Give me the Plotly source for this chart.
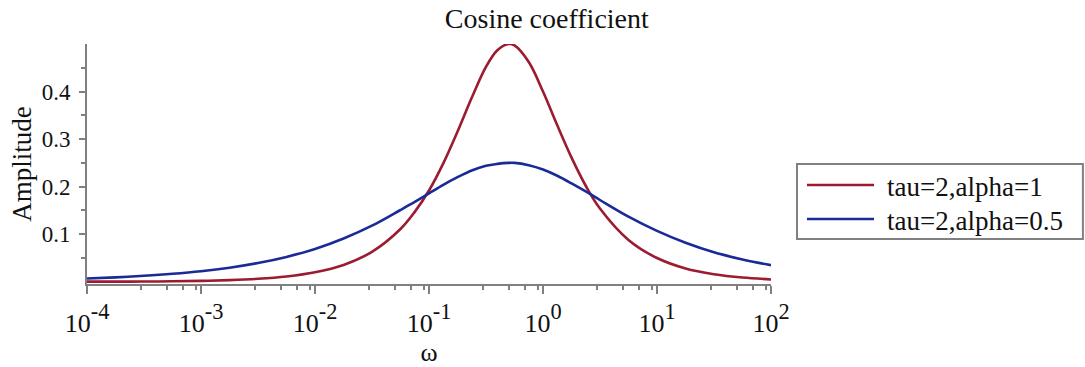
import plotly.graph_objects as go

# Frequency samples (log-spaced, denser around the peak) and the
# cosine-coefficient amplitudes of each series
omega = [1e-4, 1.78e-4, 3.16e-4, 5.62e-4, 1e-3, 1.78e-3, 3.16e-3, 5.62e-3,
         0.01, 0.0178, 0.0316, 0.0562, 0.075, 0.1, 0.1334, 0.178, 0.237,
         0.316, 0.398, 0.5, 0.562, 0.75, 1.0, 1.334, 1.78, 2.37, 3.16,
         5.62, 10, 17.8, 31.6, 56.2, 100]
amp_alpha1 = [0.0003, 0.0004, 0.0006, 0.0011, 0.002, 0.0036, 0.0063, 0.0112,
              0.020, 0.0355, 0.063, 0.111, 0.147, 0.192, 0.249, 0.316, 0.387,
              0.452, 0.487, 0.500, 0.497, 0.462, 0.400, 0.329, 0.261, 0.202, 0.154,
              0.088, 0.050, 0.028, 0.016, 0.009, 0.005]
amp_alpha05 = [0.007, 0.0094, 0.0126, 0.0168, 0.0223, 0.0297, 0.0395, 0.0524,
               0.069, 0.091, 0.118, 0.151, 0.168, 0.186, 0.204, 0.220, 0.234,
               0.244, 0.248, 0.250, 0.250, 0.245, 0.236, 0.223, 0.207, 0.190, 0.172,
               0.137, 0.107, 0.082, 0.062, 0.047, 0.035]

series_names = ["tau=2,alpha=1", "tau=2,alpha=0.5"]
series_colors = ["#9B1B30", "#1A2A96"]

x_major = [1e-4, 1e-3, 1e-2, 1e-1, 1e0, 1e1, 1e2]
x_exponents = ["-4", "-3", "-2", "-1", "0", "1", "2"]
# base "10" kept at 26px, exponent inherits the larger tick font (70% of 32px)
x_major_text = ["<span style='font-size:26px'>10</span><sup>%s</sup>" % e
                for e in x_exponents]
x_minor = [m * d for d in [1e-4, 1e-3, 1e-2, 1e-1, 1e0, 1e1] for m in (3, 5, 7, 9)]
y_major = [0.1, 0.2, 0.3, 0.4]
y_major_text = ["0.1", "0.2", "0.3", "0.4"]
y_minor = [0.05, 0.15, 0.25, 0.35, 0.45]

SERIF = "Liberation Serif, Times New Roman, serif"
AXIS_GRAY = "#808080"
TEXT = "#111111"

fig = go.Figure()
for ys, name, col in zip([amp_alpha1, amp_alpha05], series_names, series_colors):
    fig.add_trace(go.Scatter(x=omega, y=ys, mode="lines", name=name,
                             line=dict(color=col, width=2.6, shape="spline",
                                       smoothing=1.0),
                             showlegend=False))

fig.update_layout(
    width=1085, height=367,
    margin=dict(l=87, r=314, t=44, b=83, autoexpand=False),
    paper_bgcolor="white", plot_bgcolor="white",
    font=dict(family=SERIF, color=TEXT),
    title=dict(text="Cosine coefficient", xref="container", x=0.504,
               yref="container", y=0.951, xanchor="center", yanchor="middle",
               font=dict(size=28, family=SERIF, color=TEXT)),
)

fig.update_xaxes(
    type="log", range=[-4, 2], automargin=False,
    showgrid=False, zeroline=False,
    showline=True, linecolor=AXIS_GRAY, linewidth=2,
    tickmode="array", tickvals=x_major, ticktext=x_major_text,
    ticks="outside", ticklen=8, tickwidth=1.5, tickcolor=AXIS_GRAY,
    tickfont=dict(size=32, family=SERIF, color=TEXT),
    minor=dict(tickmode="array", tickvals=x_minor, ticks="outside",
               ticklen=4, tickwidth=1.5, tickcolor=AXIS_GRAY, showgrid=False),
    title=dict(text="ω", font=dict(size=26, family=SERIF, color=TEXT),
               standoff=6),
)

fig.update_yaxes(
    range=[-0.0046, 0.5], automargin=False,
    showgrid=False, zeroline=False,
    showline=True, linecolor=AXIS_GRAY, linewidth=2,
    tickmode="array", tickvals=y_major, ticktext=y_major_text,
    ticks="outside", ticklen=6, tickwidth=1.5, tickcolor=AXIS_GRAY,
    ticklabelstandoff=4,
    tickfont=dict(size=23, family=SERIF, color=TEXT),
    minor=dict(tickmode="array", tickvals=y_minor, ticks="outside",
               ticklen=4, tickwidth=1.5, tickcolor=AXIS_GRAY, showgrid=False),
    title=dict(text="Amplitude", font=dict(size=27, family=SERIF, color=TEXT),
               standoff=2),
)

# Legend: framed box with long line samples, placed right of the plot area
box_x0, box_x1, box_y0, box_y1 = 1.038, 1.456, 0.1875, 0.5
sample_x0, sample_x1, text_x = 1.0526, 1.1506, 1.1667
row_y = [0.4125, 0.2708]
fig.add_shape(type="rect", xref="paper", yref="paper",
              x0=box_x0, x1=box_x1, y0=box_y0, y1=box_y1,
              line=dict(color=AXIS_GRAY, width=2), fillcolor="white")
for name, col, ry in zip(series_names, series_colors, row_y):
    fig.add_shape(type="line", xref="paper", yref="paper",
                  x0=sample_x0, x1=sample_x1, y0=ry, y1=ry,
                  line=dict(color=col, width=2.6))
    fig.add_annotation(text=name, xref="paper", yref="paper",
                       x=text_x, y=ry - 0.01, xanchor="left", yanchor="middle",
                       showarrow=False,
                       font=dict(size=27, family=SERIF, color=TEXT))

fig.write_html("out.html")
